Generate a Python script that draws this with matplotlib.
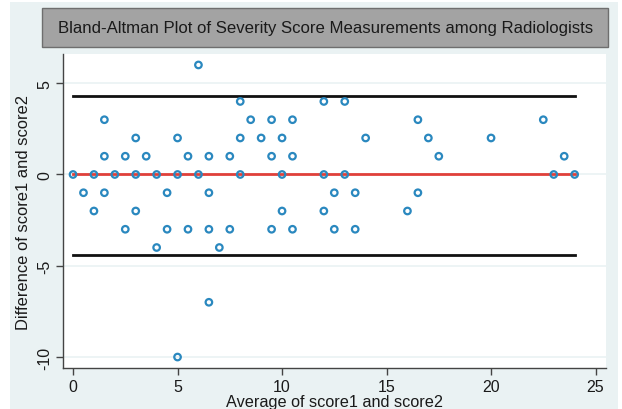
import matplotlib
matplotlib.use("Agg")
import matplotlib.pyplot as plt
from matplotlib.patches import Rectangle
import numpy as np

plt.rcParams['font.family'] = ['Liberation Sans', 'DejaVu Sans']

# Data: (average, difference) pairs
avg_vals = [6,
            8, 12, 13,
            1.5, 8.5, 9.5, 10.5, 16.5, 22.5,
            3, 5, 8, 9, 10, 14, 17, 20,
            1.5, 2.5, 3.5, 5.5, 6.5, 7.5, 9.5, 10.5, 17.5, 23.5,
            0, 1, 2, 3, 4, 5, 6, 8, 10, 12, 13, 23, 24,
            0.5, 1.5, 4.5, 6.5, 12.5, 13.5, 16.5,
            1, 3, 10, 12, 16,
            2.5, 4.5, 5.5, 6.5, 7.5, 9.5, 10.5, 12.5, 13.5,
            4, 7,
            6.5,
            5]
diff_vals = [6,
             4, 4, 4,
             3, 3, 3, 3, 3, 3,
             2, 2, 2, 2, 2, 2, 2, 2,
             1, 1, 1, 1, 1, 1, 1, 1, 1, 1,
             0, 0, 0, 0, 0, 0, 0, 0, 0, 0, 0, 0, 0,
             -1, -1, -1, -1, -1, -1, -1,
             -2, -2, -2, -2, -2,
             -3, -3, -3, -3, -3, -3, -3, -3, -3,
             -4, -4,
             -7,
             -10]
mean_diff = 0.0
upper_loa = 4.3
lower_loa = -4.4
x_ticks = [0, 5, 10, 15, 20, 25]
y_ticks = [-10, -5, 0, 5]

W, H = 622, 410
fig = plt.figure(figsize=(W/100, H/100), dpi=100)
fig.patch.set_facecolor('white')

def fx(px): return px / W
def fy(py): return 1 - py / H

# graph region background
fig.patches.append(Rectangle((fx(10), fy(410)), fx(618) - fx(10), fy(3) - fy(410),
                             transform=fig.transFigure, facecolor='#eaf2f3',
                             edgecolor='none', zorder=-10))
# title box
fig.patches.append(Rectangle((fx(42), fy(48)), fx(608) - fx(42), fy(9) - fy(48),
                             transform=fig.transFigure, facecolor='#a3a3a3',
                             edgecolor='#6e6e6e', linewidth=1.0, zorder=-5))
fig.text(fx(326), fy(29), 'Bland-Altman Plot of Severity Score Measurements among Radiologists',
         ha='center', va='center', fontsize=12.1, color='#1a1a1a', zorder=2)

ax = fig.add_axes([fx(63), fy(369), fx(606) - fx(63), fy(55) - fy(369)])
ax.set_zorder(1)
ax.set_facecolor('white')
ax.set_xlim(-0.48, 25.5)
ax.set_ylim(-10.6, 6.6)

for yt in y_ticks:
    ax.axhline(yt, color='#eaf2f3', linewidth=1.2, zorder=0)

xmin, xmax = min(avg_vals), max(avg_vals)
ax.plot([xmin, xmax], [upper_loa, upper_loa], color='#111111', linewidth=2, zorder=2)
ax.plot([xmin, xmax], [lower_loa, lower_loa], color='#111111', linewidth=2, zorder=2)
ax.plot([xmin, xmax], [mean_diff, mean_diff], color='#e0403a', linewidth=2, zorder=2)
ax.scatter(avg_vals, diff_vals, s=22, facecolors='none', edgecolors='#2a88bf',
           linewidths=1.6, zorder=3)

ax.set_xticks(x_ticks)
ax.set_yticks(y_ticks)
ax.set_yticklabels([str(t) for t in y_ticks], rotation=90, va='center')
for s in ['top', 'right']:
    ax.spines[s].set_visible(False)
for s in ['left', 'bottom']:
    ax.spines[s].set_color('#444444')
    ax.spines[s].set_linewidth(1.0)
ax.tick_params(axis='both', direction='out', length=5, width=1, color='#444444',
               labelsize=11.5, labelcolor='#1a1a1a', pad=3)
ax.set_xlabel('Average of score1 and score2', fontsize=11.7, color='#1a1a1a', labelpad=0)
ax.set_ylabel('Difference of score1 and score2', fontsize=11.9, color='#1a1a1a', labelpad=4)

fig.savefig('out.png', dpi=100, facecolor=fig.get_facecolor())
